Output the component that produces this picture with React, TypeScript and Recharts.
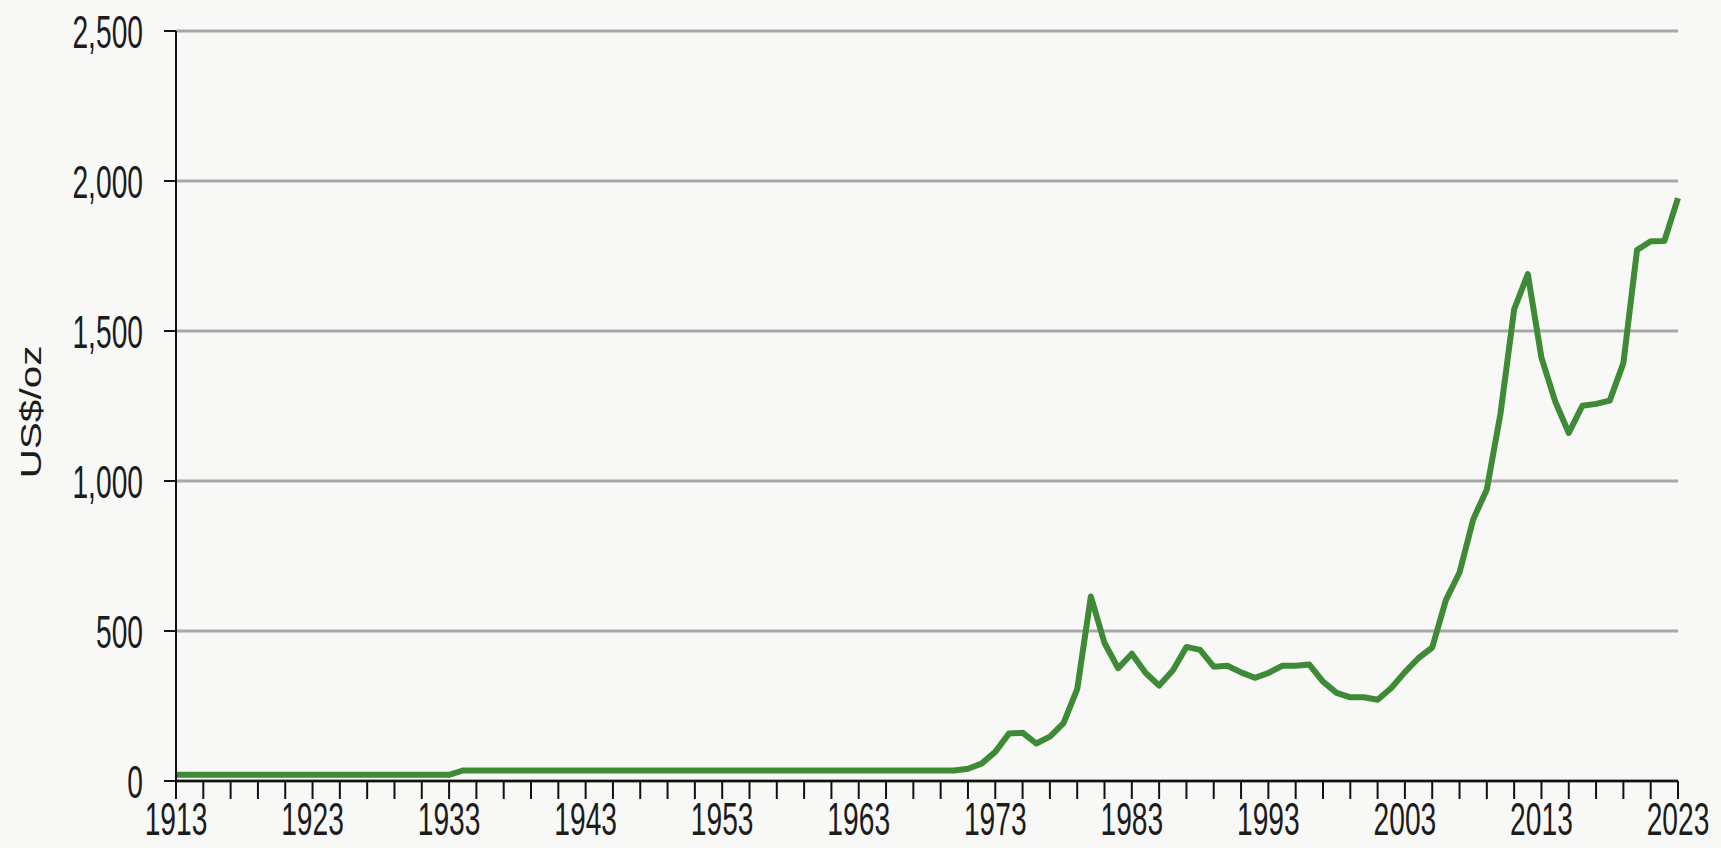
import { LineChart, Line, XAxis, YAxis, CartesianGrid } from "recharts";

const START_YEAR = 1913;

// annual average gold price, US$/oz
const prices: number[] = [
  // 1913-1922
  20.67, 20.67, 20.67, 20.67, 20.67, 20.67, 20.67, 20.67, 20.67, 20.67,
  // 1923-1932
  20.67, 20.67, 20.67, 20.67, 20.67, 20.67, 20.67, 20.67, 20.67, 20.67,
  // 1933-1942
  20.67, 35, 35, 35, 35, 35, 35, 35, 35, 35,
  // 1943-1952
  35, 35, 35, 35, 35, 35, 35, 35, 35, 35,
  // 1953-1962
  35, 35, 35, 35, 35, 35, 35, 35, 35, 35,
  // 1963-1972
  35, 35, 35, 35, 35, 35, 35, 35, 40.8, 58,
  // 1973-1982
  97, 158, 161, 125, 148, 193, 306, 615, 460, 376,
  // 1983-1992
  424, 361, 318, 368, 447, 437, 381, 384, 362, 344,
  // 1993-2002
  360, 384, 384, 388, 331, 294, 279, 279, 271, 310,
  // 2003-2012
  363, 410, 445, 603, 695, 872, 972, 1225, 1572, 1690,
  // 2013-2022
  1411, 1266, 1160, 1251, 1257, 1268, 1393, 1770, 1799, 1800,
  // 2023
  1943,
];

const years: number[] = prices.map((_, i) => START_YEAR + i);

const yTicks = [0, 500, 1000, 1500, 2000, 2500];
const xTicks = years.filter((y) => (y - START_YEAR) % 2 === 0);
const xLabelYears = [1913, 1923, 1933, 1943, 1953, 1963, 1973, 1983, 1993, 2003, 2013, 2023];

const data = years.map((year, i) => ({ year, price: prices[i] }));

const FONT = "'Liberation Sans', Arial, sans-serif";
const TEXT = "#1c1c1c";
const SQUEEZE = 0.6;

function XTick(props: any) {
  const { x, y, payload } = props;
  if (!xLabelYears.includes(payload.value)) return null;
  return (
    <g transform={`translate(${x},${y}) scale(${SQUEEZE},1)`}>
      <text x={0} y={34} textAnchor="middle" fill={TEXT} fontSize={47} fontFamily={FONT}>
        {payload.value}
      </text>
    </g>
  );
}

function YTick(props: any) {
  const { x, y, payload } = props;
  return (
    <g transform={`translate(${x},${y}) scale(${SQUEEZE},1)`}>
      <text x={0} y={0} dy={17} textAnchor="end" fill={TEXT} fontSize={47} fontFamily={FONT}>
        {payload.value.toLocaleString("en-US")}
      </text>
    </g>
  );
}

export default function App() {
  return (
    <div
      style={{
        position: "absolute",
        left: 0,
        top: 0,
        width: 1721,
        height: 848,
        background: "#f8f8f7",
      }}
    >
      <svg width={80} height={848} style={{ position: "absolute", left: 0, top: 0 }}>
        <g transform="translate(31,412) rotate(-90) scale(1.35,1)">
          <text x={0} y={0} dy={10} textAnchor="middle" fill={TEXT} fontSize={30} fontFamily={FONT}>
            US$/oz
          </text>
        </g>
      </svg>
      <LineChart
        width={1721}
        height={848}
        data={data}
        margin={{ top: 31, right: 43, bottom: 0, left: 0 }}
      >
        <CartesianGrid vertical={false} stroke="#a8a8a8" strokeWidth={3} />
        <XAxis
          dataKey="year"
          type="number"
          domain={[1913, 2023]}
          ticks={xTicks}
          interval={0}
          tickSize={18}
          tickMargin={2}
          tickLine={{ stroke: "#111", strokeWidth: 2 }}
          axisLine={{ stroke: "#111", strokeWidth: 2.5 }}
          tick={<XTick />}
          height={67}
        />
        <YAxis
          domain={[0, 2500]}
          ticks={yTicks}
          interval={0}
          width={176}
          tickSize={12}
          tickMargin={21}
          tickLine={{ stroke: "#111", strokeWidth: 2 }}
          axisLine={{ stroke: "#111", strokeWidth: 2 }}
          tick={<YTick />}
        />
        <Line
          type="linear"
          dataKey="price"
          stroke="#3f8a36"
          strokeWidth={6}
          dot={false}
          strokeLinejoin="round"
          isAnimationActive={false}
        />
      </LineChart>
    </div>
  );
}
